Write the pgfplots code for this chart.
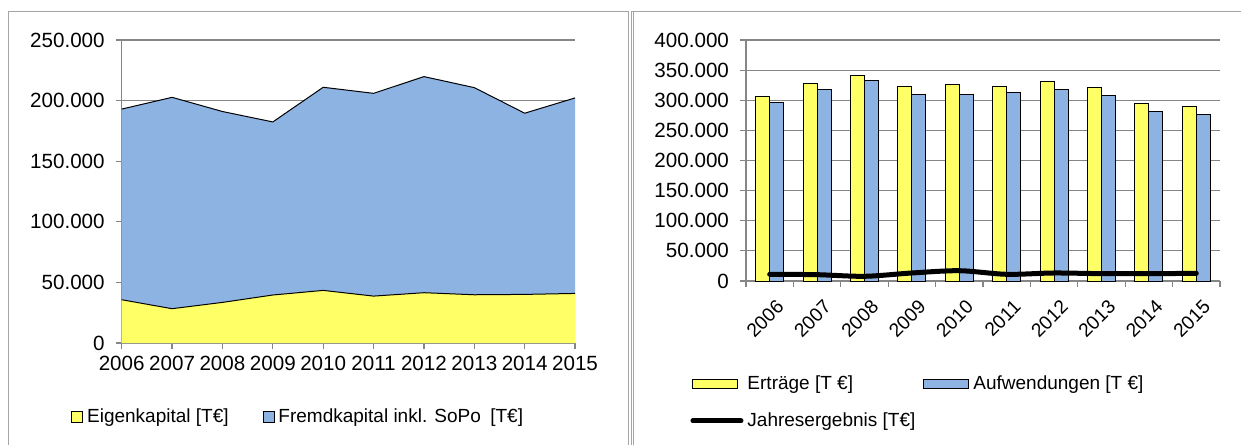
\documentclass[border=0pt]{standalone}
\usepackage{pgfplots}
\pgfplotsset{compat=1.18}
\usepackage{pgfplotstable}
\usepackage{fontspec}
\setmainfont{Liberation Sans}

\definecolor{ekyellow}{RGB}{255,255,102}
\definecolor{fkblue}{RGB}{141,179,226}
\definecolor{axgray}{RGB}{134,134,134}
\definecolor{framegray}{RGB}{165,165,165}

% Bilanz (T€)
\pgfplotstableread{
year ek    fk
2006 35700 157300
2007 28300 174400
2008 33500 157500
2009 39600 142800
2010 43400 167600
2011 38700 167300
2012 41500 178300
2013 39800 170900
2014 40100 149500
2015 40900 161300
}\bilanz

% GuV (T€), idx 0 = 2006
\pgfplotstableread{
idx ert    auf    erg
0   306800 295700 11100
1   328300 317800 10500
2   341100 333300 7800
3   322300 309000 13300
4   326100 309000 17100
5   323400 312300 11100
6   331100 317800 13300
7   320600 308400 12200
8   294000 281800 12200
9   289000 276300 12700
}\guv

\pgfplotsset{
  excelaxis/.style={
    scale only axis,
    anchor=south west,
    axis x line*=bottom, axis y line*=left,
    axis line style={axgray, line width=0.75pt},
    ymajorgrids, grid style={axgray, line width=0.6pt},
    tick align=outside, major tick length=3pt,
    tick style={axgray, line width=0.6pt},
    tick label style={font=\fontsize{10.3}{12}\selectfont},
    /pgf/number format/assume math mode=true,
    scaled y ticks=false,
    yticklabel style={/pgf/number format/fixed, /pgf/number format/1000 sep={.}, xshift=-2pt},
    legend cell align=left,
    legend style={draw=none, fill=none, inner sep=0pt,
      font=\fontsize{9.5}{11}\selectfont},
  },
}

\begin{document}
\begin{tikzpicture}
\useasboundingbox (0,0) rectangle (620.5pt,222.5pt);
% panel frames
\draw[framegray, line width=0.5pt] (4pt,0) -- (4pt,216.5pt) -- (314pt,216.5pt) -- (314pt,0);
\draw[framegray, line width=0.5pt] (315.6pt,0) -- (315.6pt,216.5pt) -- (620.5pt,216.5pt);
\draw[framegray, line width=0.5pt] (316.8pt,0) -- (316.8pt,216.5pt);

% left: Eigenkapital / Fremdkapital
\begin{axis}[excelaxis,
  at={(60.85pt,51pt)}, width=226.7pt, height=151.5pt,
  xmin=2006, xmax=2015, ymin=0, ymax=250000,
  xtick={2006,...,2015}, ytick={0,50000,...,250000},
  xticklabel style={/pgf/number format/1000 sep={}},
  reverse legend, legend columns=2,
  legend style={at={(-0.112,-0.245)}, anchor=west,
    /tikz/every even column/.append style={column sep=15pt}},
]
\addplot[fill=fkblue, draw=none,
  legend image code/.code={\draw[fill=fkblue, draw=black, line width=0.4pt] (0pt,-2.75pt) rectangle (5.5pt,2.75pt);}]
  table[x=year, y expr=\thisrow{ek}+\thisrow{fk}] {\bilanz} \closedcycle;
\addlegendentry{Fremdkapital inkl. SoPo\enspace[T€]}
\addplot[fill=ekyellow, draw=none,
  legend image code/.code={\draw[fill=ekyellow, draw=black, line width=0.4pt] (0pt,-2.75pt) rectangle (5.5pt,2.75pt);}]
  table[x=year, y=ek] {\bilanz} \closedcycle;
\addlegendentry{Eigenkapital [T€]}
\addplot[forget plot, black, line width=0.5pt] table[x=year, y expr=\thisrow{ek}+\thisrow{fk}] {\bilanz};
\addplot[forget plot, black, line width=0.5pt] table[x=year, y=ek] {\bilanz};
\end{axis}

% right: Erträge / Aufwendungen / Jahresergebnis
\begin{axis}[excelaxis,
  at={(373pt,82pt)}, width=237pt, height=120.5pt,
  xmin=-0.5, xmax=9.5, ymin=0, ymax=400000,
  xtick={-0.5,0.5,...,9.5}, x tick label as interval,
  xticklabels={2006,2007,2008,2009,2010,2011,2012,2013,2014,2015},
  xticklabel style={rotate=45, anchor=north east, inner sep=1pt, xshift=-1pt, yshift=-5pt,
    font=\fontsize{9.6}{11}\selectfont},
  ytick={0,50000,...,400000},
  legend columns=2,
  legend style={at={(-0.118,-0.375)}, anchor=north west, row sep=6pt,
    /tikz/every even column/.append style={column sep=2pt}},
]
\addplot[ybar, bar width=7pt, bar shift=-3.5pt, fill=ekyellow, draw=black, line width=0.5pt,
  legend image code/.code={\draw[fill=ekyellow, draw=black, line width=0.5pt] (0pt,-2.25pt) rectangle (22.5pt,2.25pt);}]
  table[x=idx, y=ert] {\guv};
\addlegendentry{Erträge [T €]}
\addplot[ybar, bar width=7pt, bar shift=3.5pt, fill=fkblue, draw=black, line width=0.5pt,
  legend image code/.code={\draw[fill=fkblue, draw=black, line width=0.5pt] (0pt,-2.25pt) rectangle (22.5pt,2.25pt);}]
  table[x=idx, y=auf] {\guv};
\addlegendentry{Aufwendungen [T €]}
\addplot[black, line width=2.5pt, smooth, line cap=round,
  legend image code/.code={\draw[black, line width=2.5pt, line cap=round] (0pt,0pt) -- (24pt,0pt);}]
  table[x=idx, y=erg] {\guv};
\addlegendentry{Jahresergebnis [T€]}
\end{axis}
\end{tikzpicture}
\end{document}
